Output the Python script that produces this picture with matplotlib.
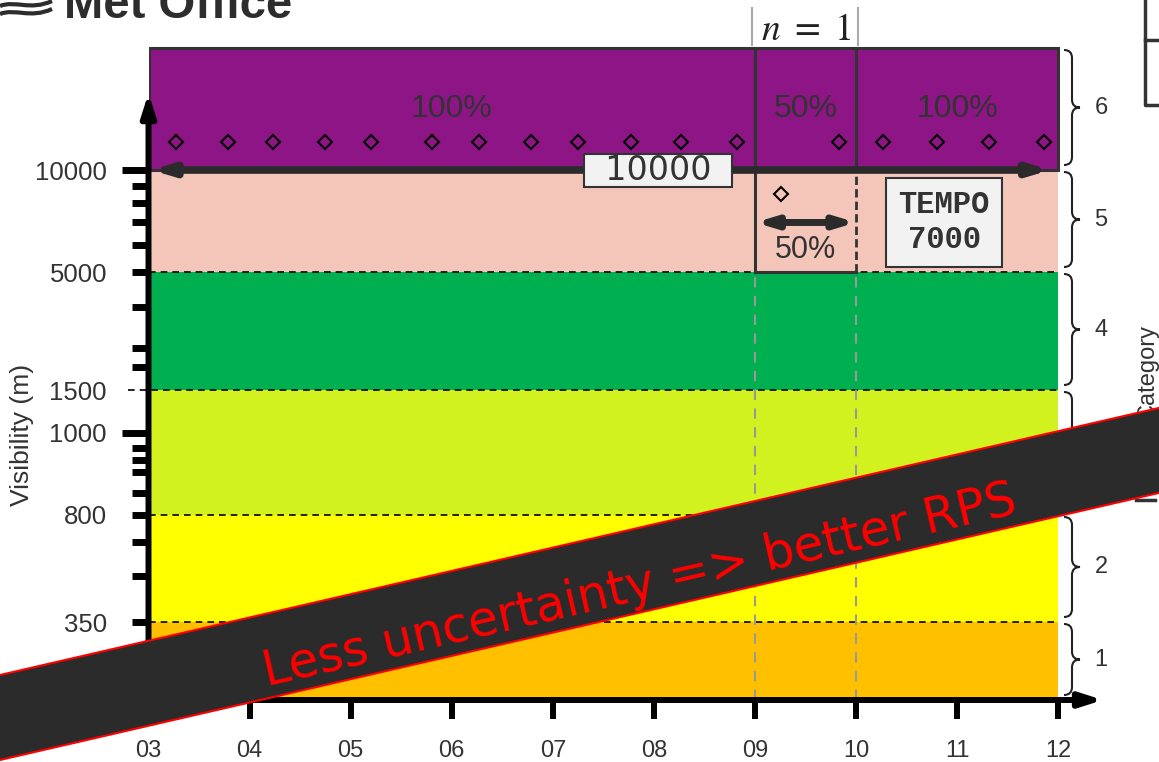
import numpy as np
import matplotlib
matplotlib.use('Agg')
import matplotlib.pyplot as plt
from matplotlib.patches import Rectangle, Polygon, PathPatch
from matplotlib.path import Path

plt.rcParams['font.family'] = ['Liberation Sans', 'DejaVu Sans']
plt.rcParams['mathtext.fontset'] = 'stix'

# ---- data ----
cat_edges = [100, 350, 800, 1500, 5000, 10000, 20000]      # visibility thresholds (m)
cat_colors = ['#FFC000', '#FFFF00', '#D2F21F', '#00B050', '#F4C6B9', '#8E1585']
cat_labels = ['1', '2', '3', '4', '5', '6']

hours = [3, 4, 5, 6, 7, 8, 9, 10, 11, 12]
hour_labels = ['03', '04', '05', '06', '07', '08', '09', '10', '11', '12']

obs_hours = [3.27, 3.79, 4.23, 4.75, 5.20, 5.80, 6.27, 6.78, 7.25, 7.77,
             8.27, 8.82, 9.26, 9.83, 10.27, 10.80, 11.31, 11.86]
obs_vis = [11700, 11700, 11700, 11700, 11700, 11700, 11700, 11700, 11700, 11700,
           11700, 11700, 8500, 11700, 11700, 11700, 11700, 11700]

period_start = [3, 9, 10]
period_end = [9, 10, 12]
period_prob = ['100%', '50%', '100%']
base_vis = 10000
tempo_vis = 7000
tempo_start, tempo_end = 9, 10
tempo_prob = '50%'

major_vis = [10000, 1000]
major_lab = ['10000', '1000']
minor_vis = [9000, 8000, 7000, 6000, 5000, 3500, 2300, 1900, 1500,
             960, 930, 900, 850, 800, 650, 500, 350]
minor_lab = ['', '', '', '', '5000', '', '', '', '1500',
             '', '', '', '', '800', '', '', '350']

# piecewise log scale for the visibility axis
knot_vis = np.log10([100, 350, 800, 1000, 1500, 5000, 10000, 20000, 40000])
knot_pos = np.array([0, 78, 185, 267, 310, 428, 530, 652, 700], dtype=float)


def fwd(v):
    v = np.clip(np.asarray(v, dtype=float), 1e-3, None)
    return np.interp(np.log10(v), knot_vis, knot_pos)


def inv(p):
    return 10 ** np.interp(np.asarray(p, dtype=float), knot_pos, knot_vis)


W, H = 1159, 762
fig = plt.figure(figsize=(W / 100, H / 100), dpi=100)
fig.patch.set_facecolor('white')
ax = fig.add_axes([148.5 / W, 62 / H, (W - 148.5) / W, 700 / H])
ax.set_yscale('function', functions=(fwd, inv))
ax.set_xlim(3, 3 + (W - 148.5) / 101.1)
ax.set_ylim(100, 40000)
for s in ax.spines.values():
    s.set_visible(False)

# category bands
for lo, hi, c in zip(cat_edges[:-1], cat_edges[1:], cat_colors):
    ax.fill_between([hours[0], hours[-1]], lo, hi, color=c, lw=0, zorder=1)
for v in cat_edges[1:5]:
    x0 = 2.8 if v == 1500 else hours[0]
    ax.plot([x0, hours[-1]], [v, v], color='black', lw=1.2, ls=(0, (4, 3)),
            zorder=2, clip_on=False)

# forecast period outlines
ax.add_patch(Rectangle((hours[0], base_vis), hours[-1] - hours[0], cat_edges[-1] - base_vis,
                       fill=False, ec='#333333', lw=2.2, zorder=3))
ax.plot([tempo_start, tempo_start], [5000, cat_edges[-1]], color='#333333', lw=2.2, zorder=3)
ax.plot([tempo_end, tempo_end], [base_vis, cat_edges[-1]], color='#333333', lw=2.2, zorder=3)
ax.plot([tempo_end, tempo_end], [5000, base_vis], color='#333333', lw=2.0, ls=(0, (3, 1.5)), zorder=3)
ax.plot([tempo_start, tempo_end], [5000, 5000], color='#333333', lw=2.2, zorder=3)
ax.vlines([tempo_start, tempo_end], cat_edges[0], 5000, colors='#999999', lw=1.5,
          linestyles=(0, (5, 4)), zorder=2)

# probabilities
mid6 = np.sqrt(cat_edges[-1] * base_vis)
for s, e, p in zip(period_start, period_end, period_prob):
    ax.text((s + e) / 2, mid6, p, ha='center', va='center', fontsize=23, color='#333333', zorder=4)

# base forecast arrow
ax.annotate('', xy=(hours[0], base_vis), xytext=(hours[-1] - 0.08, base_vis),
            arrowprops=dict(arrowstyle='<|-|>,head_length=1.0,head_width=0.3', mutation_scale=11,
                            lw=5.5, color='#2b2b2b', shrinkA=0, shrinkB=2), zorder=5)
ax.text(8.04, base_vis, '  10000  ', ha='center', va='center', fontsize=24,
        family='DejaVu Sans', color='#333333', zorder=6,
        bbox=dict(boxstyle='square,pad=0.0', fc='#f2f2f2', ec='#333333', lw=1.5))

# tempo arrow
ax.annotate('', xy=(tempo_start, tempo_vis), xytext=(tempo_end, tempo_vis),
            arrowprops=dict(arrowstyle='<|-|>,head_length=1.0,head_width=0.3', mutation_scale=11,
                            lw=5, color='#2b2b2b', shrinkA=0, shrinkB=0), zorder=5)
ax.annotate(tempo_prob, xy=((tempo_start + tempo_end) / 2, tempo_vis), xytext=(0, -20),
            textcoords='offset points', ha='center', va='center', fontsize=22,
            color='#333333', zorder=5)
ax.text(10.87, tempo_vis, 'TEMPO\n%d' % tempo_vis, ha='center', va='center', fontsize=22,
        family='Liberation Mono', weight='bold', color='#333333', linespacing=1.2, zorder=6,
        bbox=dict(boxstyle='square,pad=0.4', fc='#f2f2f2', ec='#333333', lw=1.5))

# observations
ax.plot(obs_hours, obs_vis, ls='none', marker='D', ms=7.5, mfc='none', mec='black',
        mew=1.5, zorder=7)

# axes
ax.set_xticks(hours, labels=hour_labels)
ax.tick_params(axis='x', length=14, width=4.3, pad=15, labelsize=17, labelcolor='#333333',
               color='black')
ax.set_yticks(major_vis, labels=major_lab)
ax.set_yticks(minor_vis, labels=minor_lab, minor=True)
ax.tick_params(axis='y', which='major', length=19.4, width=5, pad=10.5, labelsize=18.5,
               labelcolor='#333333', color='black')
ax.tick_params(axis='y', which='minor', length=12.2, width=5, pad=17.7, labelsize=18.5,
               labelcolor='#333333', color='black')
arrow_kw = dict(arrowstyle='-|>,head_length=1.1,head_width=0.35', mutation_scale=12,
                lw=4.3, color='black', shrinkA=0, shrinkB=0)
ax.annotate('', xy=(0, 0.867), xytext=(0, 0), xycoords='axes fraction', arrowprops=arrow_kw,
            zorder=8, annotation_clip=False)
ax.annotate('', xy=(0.9446, 0), xytext=(0, 0), xycoords='axes fraction', arrowprops=arrow_kw,
            zorder=8, annotation_clip=False)
for t, v in zip(ax.yaxis.get_minor_ticks(), minor_vis):
    if v == 1500:
        t.tick1line.set_visible(False)

# ---- overlay in image pixels ----
ov = fig.add_axes([0, 0, 1, 1], zorder=10)
ov.set_xlim(0, W)
ov.set_ylim(H, 0)
ov.axis('off')
ov.patch.set_alpha(0)


def img_y(v):
    return H - ax.transData.transform((hours[-1], v))[1]


def brace(x0, y0, y1, w=16):
    xm, ym = x0 + w / 2, (y0 + y1) / 2
    r = min(8, (y1 - y0) / 4)
    verts = [(x0, y0), (xm, y0), (xm, y0 + r), (xm, ym - r), (xm, ym), (x0 + w, ym),
             (xm, ym), (xm, ym + r), (xm, y1 - r), (xm, y1), (x0, y1)]
    codes = [Path.MOVETO, Path.CURVE3, Path.CURVE3, Path.LINETO, Path.CURVE3, Path.CURVE3,
             Path.CURVE3, Path.CURVE3, Path.LINETO, Path.CURVE3, Path.CURVE3]
    ov.add_patch(PathPatch(Path(verts, codes), fill=False, ec='#222222', lw=1.5, zorder=2))


for lo, hi, lab in zip(cat_edges[:-1], cat_edges[1:], cat_labels):
    yt, yb = img_y(hi) + 2, img_y(lo) - 5
    brace(1064, yt, yb)
    ov.text(1101, (yt + yb) / 2, lab, ha='center', va='center', fontsize=17, color='#333333')

ov.text(1148, 372, 'Category', rotation=90, ha='center', va='center', fontsize=17,
        color='#333333', zorder=1)
ov.plot([1145, 1145, 1159], [0, 105, 105], color='#333333', lw=2.5, zorder=1)
ov.plot([1145, 1159], [40, 40], color='#333333', lw=2.5, zorder=1)
ov.plot([1136, 1155], [500, 500], color='#333333', lw=2.5, zorder=1)

ov.plot([752, 752], [8, 45], color='#aaaaaa', lw=1.5)
ov.plot([858, 858], [8, 45], color='#aaaaaa', lw=1.5)
ov.text(806, 30, r'$n\ =\ 1$', ha='center', va='center', fontsize=27, color='#222222')

ov.text(22, 435, 'Visibility (m)', rotation=90, ha='center', va='center', fontsize=19,
        color='#333333')

# Met Office logo
ov.text(64, 18, 'Met Office', ha='left', va='baseline', fontsize=34, weight='bold',
        color='#2d2d2d')
for dy in (0, 8):
    wave = Path([(0, 6 + dy), (15, 0 + dy), (30, 11 + dy), (52, 1 + dy)],
                [Path.MOVETO, Path.CURVE4, Path.CURVE4, Path.CURVE4])
    ov.add_patch(PathPatch(wave, fill=False, ec='#2d2d2d', lw=3))

# banner
ov.add_patch(Polygon([(-20, 679.6), (1180, 403.1), (1180, 488.1), (-20, 764.6)],
                     closed=True, fc='#2b2b2b', ec='red', lw=1.5, zorder=20))
ov.text(640, 586, 'Less uncertainty => better RPS', rotation=12.97, rotation_mode='anchor',
        ha='center', va='center', fontsize=35, color='red', family='DejaVu Sans', zorder=21)

fig.savefig('out.png', dpi=100)
